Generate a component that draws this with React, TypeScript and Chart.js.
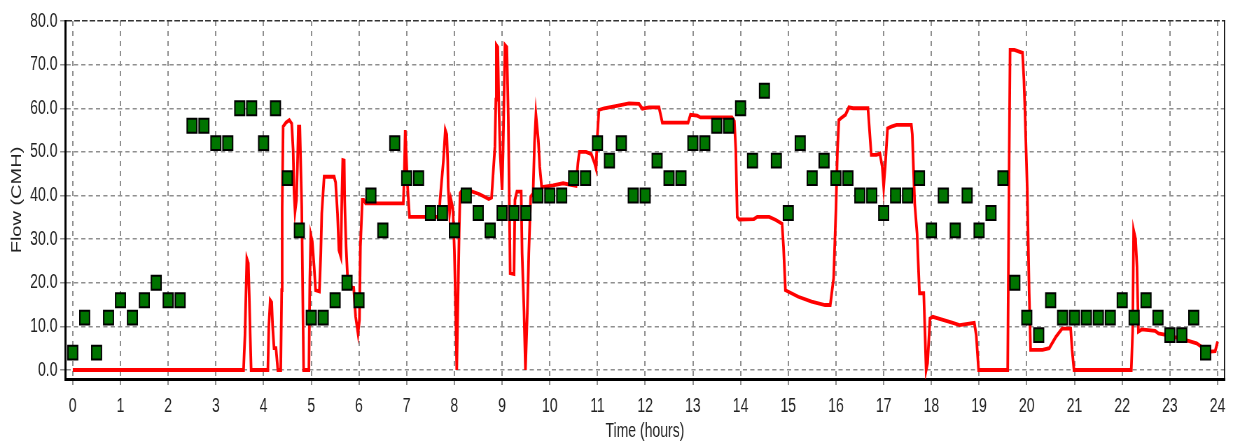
import { useEffect, useRef } from 'react';
import { Chart, registerables } from 'chart.js';

Chart.register(...registerables);

// ---- data ----
const hourTicks = [0, 1, 2, 3, 4, 5, 6, 7, 8, 9, 10, 11, 12, 13, 14, 15, 16, 17, 18, 19, 20, 21, 22, 23, 24];
const flowTicks = [0, 10, 20, 30, 40, 50, 60, 70, 80];

const meterTimes = [
  0, 0.25, 0.5, 0.75, 1, 1.25, 1.5, 1.75, 2, 2.25, 2.5, 2.75, 3, 3.25, 3.5, 3.75,
  4, 4.25, 4.5, 4.75, 5, 5.25, 5.5, 5.75, 6, 6.25, 6.5, 6.75, 7, 7.25, 7.5, 7.75,
  8, 8.25, 8.5, 8.75, 9, 9.25, 9.5, 9.75, 10, 10.25, 10.5, 10.75, 11, 11.25, 11.5, 11.75,
  12, 12.25, 12.5, 12.75, 13, 13.25, 13.5, 13.75, 14, 14.25, 14.5, 14.75, 15, 15.25, 15.5, 15.75,
  16, 16.25, 16.5, 16.75, 17, 17.25, 17.5, 17.75, 18, 18.25, 18.5, 18.75, 19, 19.25, 19.5, 19.75,
  20, 20.25, 20.5, 20.75, 21, 21.25, 21.5, 21.75, 22, 22.25, 22.5, 22.75, 23, 23.25, 23.5, 23.75,
];
const meterFlows = [
  4, 12, 4, 12, 16, 12, 16, 20, 16, 16, 56, 56, 52, 52, 60, 60,
  52, 60, 44, 32, 12, 12, 16, 20, 16, 40, 32, 52, 44, 44, 36, 36,
  32, 40, 36, 32, 36, 36, 36, 40, 40, 40, 44, 44, 52, 48, 52, 40,
  40, 48, 44, 44, 52, 52, 56, 56, 60, 48, 64, 48, 36, 52, 44, 48,
  44, 44, 40, 40, 36, 40, 40, 44, 32, 40, 32, 40, 32, 36, 44, 20,
  12, 8, 16, 12, 12, 12, 12, 12, 16, 12, 16, 12, 8, 8, 12, 4,
];

const modelTimes = [
  0, 3.58, 3.61, 3.63, 3.65, 3.68, 3.7, 3.72, 3.74, 4.09, 4.11, 4.14, 4.17, 4.19, 4.22, 4.26, 4.3,
  4.36, 4.38, 4.39, 4.41, 4.47, 4.54, 4.59, 4.62, 4.64, 4.66, 4.69, 4.71, 4.73, 4.76, 4.78, 4.8, 4.82, 4.84,
  4.95, 4.97, 4.99, 5.02, 5.06, 5.09, 5.17, 5.2, 5.22, 5.27, 5.48, 5.51, 5.55, 5.58, 5.62, 5.64, 5.66,
  5.69, 5.7, 5.73, 5.77, 5.89, 5.93, 5.98, 6.01, 6.03, 6.07, 6.1, 6.14, 6.93, 6.95, 6.97, 6.99, 7.01,
  7.03, 7.06, 7.68, 7.7, 7.77, 7.81, 7.84, 7.86, 7.87, 7.9, 7.93, 7.97, 8.0, 8.03, 8.05, 8.07, 8.1,
  8.12, 8.15, 8.32, 8.53, 8.72, 8.78, 8.85, 8.87, 8.88, 8.91, 8.93, 8.96, 9.0, 9.02, 9.04, 9.06, 9.1,
  9.13, 9.16, 9.17, 9.25, 9.27, 9.31, 9.4, 9.42, 9.46, 9.49, 9.53, 9.56, 9.6, 9.65, 9.68, 9.71, 9.76,
  9.79, 9.83, 10.07, 10.28, 10.55, 10.59, 10.62, 10.76, 10.87, 10.94, 10.97, 11.0, 11.03, 11.14, 11.38,
  11.66, 11.87, 11.94, 12.08, 12.29, 12.36, 12.9, 12.95, 13.09, 13.16, 13.82, 13.87, 13.9, 13.93, 13.97,
  14.28, 14.35, 14.6, 14.74, 14.87, 14.9, 14.94, 15.21, 15.49, 15.77, 15.88, 15.95, 16.0, 16.03, 16.06,
  16.1, 16.2, 16.27, 16.36, 16.67, 16.69, 16.74, 16.85, 16.92, 16.97, 17.0, 17.04, 17.08, 17.16, 17.27,
  17.58, 17.6, 17.65, 17.7, 17.75, 17.84, 17.89, 17.92, 17.97, 18.03, 18.45, 18.59, 18.9, 18.94, 18.99,
  19.6, 19.63, 19.65, 19.74, 19.91, 19.94, 19.96, 20.01, 20.05, 20.08, 20.33, 20.47, 20.61, 20.74, 20.92,
  20.95, 20.99, 22.19, 22.22, 22.24, 22.28, 22.31, 22.34, 22.41, 22.69, 22.76, 22.94, 23.32, 23.56, 23.67,
  23.84, 23.95, 24.0,
];
const modelFlows = [
  0, 0, 8, 17, 25.5, 24.5, 17, 8, 0, 0, 10, 16, 15.5, 10, 5, 5, 0,
  0, 18.3, 37, 55.8, 56.7, 57.3, 56.5, 50.4, 40.5, 36.3, 39, 46.6, 55.8, 55.8, 46.6, 37.4, 18.3, 0,
  0, 20.6, 31, 29.5, 23.7, 18.3, 18, 26.7, 35.9, 44.3, 44.3, 43, 35.9, 27.5, 26, 39, 48.1,
  48, 39, 28.3, 19.1, 18.8, 12.2, 8.4, 11.5, 28.3, 39, 39, 38.2, 38.2, 45, 55, 50, 44,
  40, 35.1, 35.1, 39, 48, 55, 54, 48, 42, 36, 39, 37, 27.5, 13, 0, 13, 31.3,
  40.5, 41, 41.1, 40.3, 39.2, 39.5, 51.2, 62, 74.5, 74, 62, 49.7, 41.3, 49.7, 62, 74.5, 74,
  58, 31.4, 22.2, 22, 39, 40.9, 40.9, 26.7, 13.4, 0, 13.4, 26.7, 39.7, 40.5, 52, 58.5, 52.7,
  46.6, 41.9, 42.3, 42.8, 42.2, 47.4, 50, 50, 49.5, 47.4, 46.2, 54.2, 59.6, 60, 60.5,
  61.1, 61, 59.9, 60.2, 60.2, 56.7, 56.7, 58.5, 58.3, 57.9, 57.9, 57, 50.4, 35.1, 34.5,
  34.6, 35.1, 35.1, 34.4, 33.5, 28.3, 18.3, 16.8, 15.7, 14.9, 14.9, 21, 37, 50, 57.3,
  57.7, 58.5, 60.2, 60, 60, 57, 49.3, 49.3, 49.6, 46.6, 42, 48, 55.4, 55.8, 56.2,
  56.2, 54, 38.2, 31.3, 17.6, 17.6, 0, 1.6, 11.8, 12.2, 10.8, 10.3, 10.8, 8, 0,
  0, 48, 73.4, 73.4, 72.7, 66.5, 60, 41.3, 17.6, 4.6, 4.6, 5, 7.6, 9.5, 9.5,
  4.6, 0, 0, 9, 32, 30, 23.7, 8.8, 9.3, 9, 8.4, 8, 6.9, 6.1, 5.3,
  4.2, 4.3, 6.5,
];

// ---- layout (canvas is drawn wide and squeezed horizontally, like the source picture) ----
const DISPLAY_W = 1233;
const DISPLAY_H = 441;
const INTERNAL_W = 1761;
const FONT = "'Liberation Sans', Arial, sans-serif";
const GRID = '#8f8f8f';
const TEXT = '#222';

export default function App() {
  const canvasRef = useRef<HTMLCanvasElement | null>(null);

  useEffect(() => {
    const canvas = canvasRef.current;
    if (!canvas) return;
    const chart = new Chart(canvas, {
      type: 'line',
      data: {
        datasets: [
          {
            label: 'Observed',
            data: meterTimes.map((t, i) => ({ x: t, y: meterFlows[i] })),
            showLine: false,
            pointStyle: 'rect',
            pointRadius: 9.8,
            pointBackgroundColor: '#007400',
            pointBorderColor: '#000',
            pointBorderWidth: 2,
            order: 0,
          },
          {
            label: 'Simulated',
            data: modelTimes.map((t, i) => ({ x: t, y: modelFlows[i] })),
            borderColor: '#ff0000',
            borderWidth: 3.8,
            pointRadius: 0,
            tension: 0,
            fill: false,
            order: 1,
          },
        ],
      },
      options: {
        animation: false,
        responsive: false,
        devicePixelRatio: 1,
        layout: { padding: { left: 0, right: 3, top: 21, bottom: 0 } },
        plugins: { legend: { display: false }, tooltip: { enabled: false } },
        scales: {
          x: {
            type: 'linear',
            position: 'bottom',
            min: -0.16,
            max: 24.15,
            afterBuildTicks: (s: any) => {
              s.ticks = hourTicks.map((v) => ({ value: v }));
            },
            afterFit: (s: any) => {
              s.height = 62;
            },
            ticks: {
              font: { family: FONT, size: 20 },
              color: TEXT,
              padding: 9,
              maxRotation: 0,
              autoSkip: false,
              callback: (v: any) => String(v),
            },
            grid: {
              color: GRID,
              lineWidth: 2,
              tickLength: 6,
              tickColor: GRID,
              tickWidth: 2,
            },
            border: { display: true, color: '#000', width: 3, dash: [5, 5] },
            title: {
              display: true,
              text: 'Time (hours)',
              color: TEXT,
              font: { family: FONT, size: 20, lineHeight: 1 },
              padding: { top: 0, bottom: 0 },
            },
          },
          y: {
            type: 'linear',
            position: 'left',
            min: -2.06,
            max: 80,
            afterBuildTicks: (s: any) => {
              s.ticks = flowTicks.map((v) => ({ value: v }));
            },
            afterFit: (s: any) => {
              s.width = 93;
            },
            ticks: {
              font: { family: FONT, size: 20 },
              color: TEXT,
              padding: 4,
              callback: (v: any) => Number(v).toFixed(1),
            },
            grid: {
              color: (c: any) => (c.tick && c.tick.value === 80 ? '#333' : GRID),
              lineWidth: 1.5,
              tickLength: 7,
              tickColor: GRID,
              tickWidth: 1.5,
            },
            border: {
              display: true,
              color: '#000',
              width: 3,
              dash: (c: any) => (c.tick && c.tick.value === 80 ? [8, 3] : [6, 4.5]),
            },
            title: {
              display: true,
              text: 'Flow (CMH)',
              color: TEXT,
              font: { family: FONT, size: 20, lineHeight: 1.2 },
              padding: { top: 12, bottom: 0 },
            },
          },
          y2: {
            type: 'linear',
            position: 'right',
            min: 0,
            max: 1,
            afterFit: (s: any) => {
              s.width = 2;
            },
            ticks: { display: false },
            grid: { display: false },
            border: { display: true, color: '#000', width: 1.6 },
          },
        },
      },
    } as any);
    return () => chart.destroy();
  }, []);

  return (
    <div style={{ position: 'absolute', left: 0, top: 0, width: DISPLAY_W, height: DISPLAY_H, background: '#fff' }}>
      <canvas
        ref={canvasRef}
        width={INTERNAL_W}
        height={DISPLAY_H}
        style={{ width: DISPLAY_W + 'px', height: DISPLAY_H + 'px', display: 'block' }}
      />
    </div>
  );
}
